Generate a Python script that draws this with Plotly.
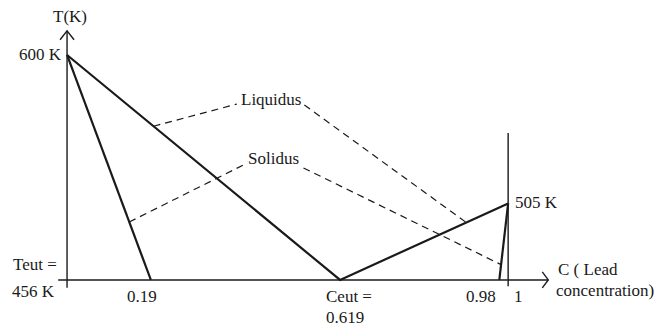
import plotly.graph_objects as go

# Lead–tin style eutectic phase diagram (schematic)
T_MELT_A = 600          # K, melting point of pure A (C = 0)
T_MELT_B = 505          # K, melting point of pure lead (C = 1)
T_EUT = 456             # K, eutectic temperature
C_EUT = 0.619           # eutectic composition
C_SOL_LEFT = 0.19       # solubility limit on the A-rich side
C_SOL_RIGHT = 0.98      # solubility limit on the lead-rich side

# Liquidus (solid lines): A melt point -> eutectic -> lead melt point
liq_c = [0.0, C_EUT, 1.0]
liq_t = [T_MELT_A, T_EUT, T_MELT_B]

# Solidus boundaries (solid lines)
sol_left_c = [0.0, C_SOL_LEFT]
sol_left_t = [T_MELT_A, T_EUT]
sol_right_c = [C_SOL_RIGHT, 1.0]
sol_right_t = [T_EUT, T_MELT_B]

# Dashed leader lines pointing from the labels to the curves
liq_lead_c = [0.196, 0.385, None, 0.538, 0.905]
liq_lead_t = [554.4, 568.6, None, 568.0, 492.8]
sol_lead_c = [0.141, 0.400, None, 0.536, 0.984]
sol_lead_t = [493.1, 529.6, None, 527.7, 465.8]

X_RANGE = [-0.152, 1.342]
Y_RANGE = [424.6, 635.2]
T_AXIS_TOP = 615.5
T_AXIS_BOTTOM = 451.0
C_AXIS_LEFT = -0.02
C_AXIS_RIGHT = 1.091
T_RIGHT_TOP = 550.0
T_RIGHT_BOTTOM = 452.0

INK = "#1a1a1a"
FONT = dict(family="Liberation Serif", size=17, color=INK)

fig = go.Figure()

for cs, ts in [(liq_c, liq_t), (sol_left_c, sol_left_t), (sol_right_c, sol_right_t)]:
    fig.add_trace(go.Scatter(x=cs, y=ts, mode="lines",
                             line=dict(color=INK, width=2.2), hoverinfo="skip"))

for cs, ts in [(liq_lead_c, liq_lead_t), (sol_lead_c, sol_lead_t)]:
    fig.add_trace(go.Scatter(x=cs, y=ts, mode="lines", connectgaps=False,
                             line=dict(color=INK, width=1.2, dash="7px,5px"),
                             hoverinfo="skip"))

axis_line = dict(color=INK, width=1.4)
shapes = [
    # temperature axis
    dict(type="line", xref="x", yref="y", x0=0, x1=0,
         y0=T_AXIS_BOTTOM, y1=T_AXIS_TOP, line=axis_line),
    # concentration axis
    dict(type="line", xref="x", yref="y", x0=C_AXIS_LEFT, x1=C_AXIS_RIGHT,
         y0=T_EUT, y1=T_EUT, line=axis_line),
    # pure-lead vertical
    dict(type="line", xref="x", yref="y", x0=1, x1=1,
         y0=T_RIGHT_BOTTOM, y1=T_RIGHT_TOP, line=dict(color=INK, width=1.4)),
    # open arrow heads
    dict(type="path", xref="x", yref="y", xsizemode="pixel", ysizemode="pixel",
         xanchor=0, yanchor=T_AXIS_TOP, path="M -7,-9 L 0,0 L 7,-9",
         line=axis_line),
    dict(type="path", xref="x", yref="y", xsizemode="pixel", ysizemode="pixel",
         xanchor=C_AXIS_RIGHT, yanchor=T_EUT, path="M -6,8 L 0,0 L -6,-8",
         line=axis_line),
]

def note(x, y, text, xanchor="center", yanchor="middle", xshift=0, yshift=0):
    return dict(x=x, y=y, xref="x", yref="y", text=text, showarrow=False,
                xanchor=xanchor, yanchor=yanchor, xshift=xshift, yshift=yshift,
                font=FONT)

annotations = [
    note(0, T_AXIS_TOP, "T(K)", yanchor="bottom", xshift=3, yshift=3),
    note(0, T_MELT_A, f"{T_MELT_A} K", xanchor="right", xshift=-3),
    note(0, T_EUT, "Teut =", xanchor="right", xshift=-8, yshift=15),
    note(0, T_EUT, f"{T_EUT} K", xanchor="right", xshift=-10, yshift=-12),
    note(C_SOL_LEFT, T_EUT, f"{C_SOL_LEFT}", xshift=-9, yshift=-17),
    note(C_EUT, T_EUT, "Ceut =", xanchor="left", xshift=-16, yshift=-17),
    note(C_EUT, T_EUT, f"{C_EUT}", xanchor="left", xshift=-16, yshift=-38),
    note(C_SOL_RIGHT, T_EUT, f"{C_SOL_RIGHT}", xanchor="right", xshift=-1, yshift=-17),
    note(1, T_EUT, "1", xshift=10, yshift=-17),
    note(1, T_MELT_B, f"{T_MELT_B} K", xanchor="left", xshift=5, yshift=1),
    note(C_AXIS_RIGHT, T_EUT, "C ( Lead", xanchor="left", xshift=8, yshift=10),
    note(C_AXIS_RIGHT, T_EUT, "concentration)", xanchor="left", xshift=6, yshift=-11),
    note(0.463, 571.8, "Liquidus"),
    note(0.467, 534.0, "Solidus"),
]

fig.update_layout(
    width=659, height=329,
    margin=dict(l=0, r=0, t=0, b=0),
    paper_bgcolor="white", plot_bgcolor="white",
    showlegend=False,
    xaxis=dict(range=X_RANGE, visible=False, fixedrange=True),
    yaxis=dict(range=Y_RANGE, visible=False, fixedrange=True),
    shapes=shapes,
    annotations=annotations,
)

fig.write_html("out.html")
